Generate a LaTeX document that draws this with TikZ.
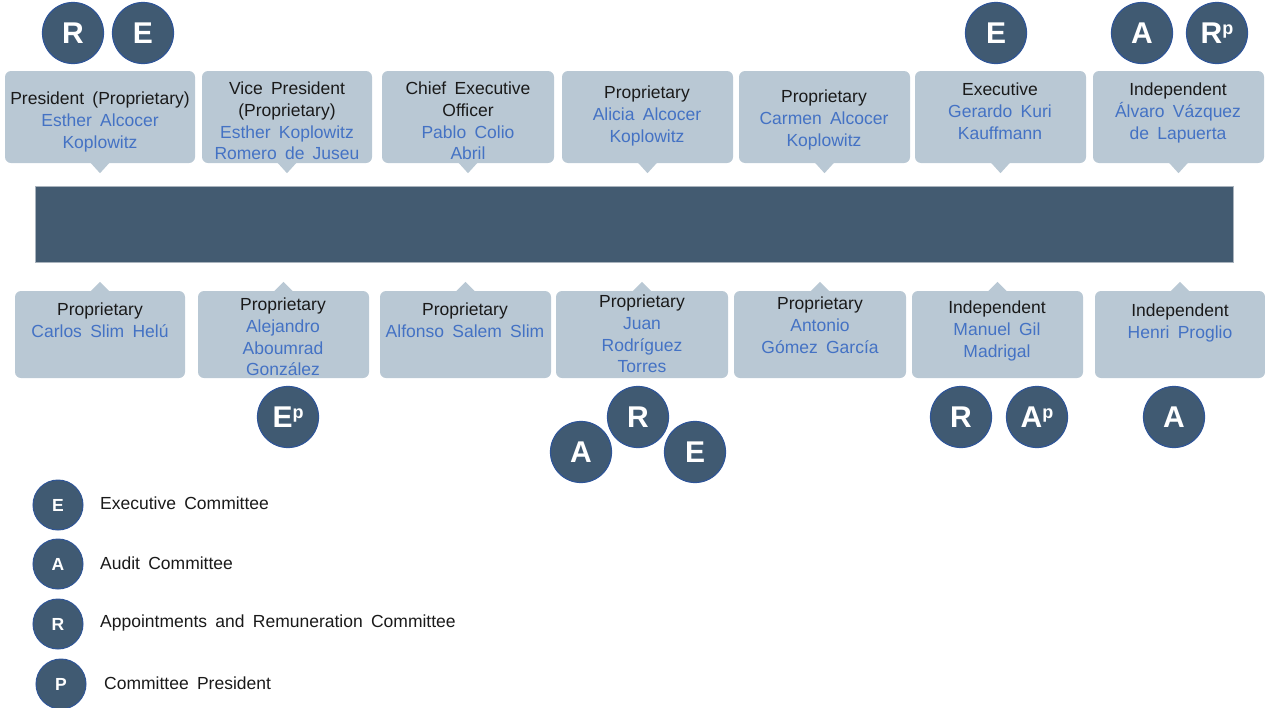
\documentclass[tikz,border=0pt]{standalone}
\usepackage{fontspec}
\setmainfont{Liberation Sans}[WordSpace=1.7]
\definecolor{barcol}{HTML}{435B71}
\definecolor{circ}{HTML}{405A72}
\definecolor{circedge}{HTML}{2F5597}
\definecolor{boxfill}{HTML}{B9C8D4}
\definecolor{namecol}{HTML}{4472C4}
\definecolor{txt}{HTML}{1A1A1A}
\definecolor{baredge}{HTML}{A9B3BD}
\newcommand\nm[1]{\textcolor{namecol}{#1}}
\newcommand\badgesup{\raisebox{9pt}{\fontsize{18}{18}\selectfont p}}
\begin{document}
\begin{tikzpicture}[x=1pt,y=-1pt,
 card/.style={fill=boxfill, rounded corners=6pt, inner sep=0pt},
 lbl/.style={align=center, font=\fontsize{17.5}{21.8}\selectfont, text=txt, inner sep=0pt},
 badge/.style={circle, fill=circ, draw=circedge, line width=1.2pt, minimum size=61pt, inner sep=0pt, text=white, font=\fontsize{30}{30}\selectfont\bfseries},
 legbadge/.style={circle, fill=circ, draw=circedge, line width=1pt, minimum size=50pt, inner sep=0pt, text=white, font=\fontsize{17.5}{17.5}\selectfont\bfseries},
 legtext/.style={anchor=west, font=\fontsize{17.5}{20}\selectfont, text=txt, inner sep=0pt}]
\useasboundingbox (0,0) rectangle (1265,707);

% bar
\node[fill=barcol, draw=baredge, line width=0.7pt, minimum width=1198pt, minimum height=76pt, inner sep=0pt] (bar) at (634,224) {};

% top cards
\foreach \n/\x/\w in {t1/100/190, t2/287/170, t3/468/172, t4/647.5/171, t5/824.5/171, t6/1000.5/171, t7/1178.5/171}{
  \node[card, minimum width=\w pt, minimum height=92pt] (\n) at (\x,117) {};
  \fill[boxfill] ([xshift=-10pt,yshift=1pt]\n.south) -- ([xshift=10pt,yshift=1pt]\n.south) -- ([yshift=-10pt]\n.south) -- cycle;
}
% bottom cards
\foreach \n/\x/\w in {b1/100/170, b2/283.5/171, b3/465.5/171, b4/642/172, b5/820/172, b6/997.5/171, b7/1180/170}{
  \node[card, minimum width=\w pt, minimum height=87pt] (\n) at (\x,334.5) {};
  \fill[boxfill] ([xshift=-10pt,yshift=-1pt]\n.north) -- ([xshift=10pt,yshift=-1pt]\n.north) -- ([yshift=9pt]\n.north) -- cycle;
}

% top texts
\node[lbl] (tt1) at (100,122) {President (Proprietary)\\\nm{Esther Alcocer}\\\nm{Koplowitz}};
\node[lbl] (tt2) at (287,121) {Vice President\\(Proprietary)\\\nm{Esther Koplowitz}\\\nm{Romero de Juseu}};
\node[lbl] (tt3) at (468,121) {Chief Executive\\Officer\\\nm{Pablo Colio}\\\nm{Abril}};
\node[lbl] (tt4) at (647,116) {Proprietary\\\nm{Alicia Alcocer}\\\nm{Koplowitz}};
\node[lbl] (tt5) at (824,120) {Proprietary\\\nm{Carmen Alcocer}\\\nm{Koplowitz}};
\node[lbl] (tt6) at (1000,111) {Executive\\\nm{Gerardo Kuri}\\\nm{Kauffmann}};
\node[lbl] (tt7) at (1178,113) {Independent\\\nm{Álvaro Vázquez}\\\nm{de Lapuerta}};

% bottom texts
\node[lbl] (bt1) at (100,320) {Proprietary\\\nm{Carlos Slim Helú}};
\node[lbl] (bt2) at (283,337) {Proprietary\\\nm{Alejandro}\\\nm{Aboumrad}\\\nm{González}};
\node[lbl] (bt3) at (465,320) {Proprietary\\\nm{Alfonso Salem Slim}};
\node[lbl] (bt4) at (642,334) {Proprietary\\\nm{Juan}\\\nm{Rodríguez}\\\nm{Torres}};
\node[lbl] (bt5) at (820,325) {Proprietary\\\nm{Antonio}\\\nm{Gómez García}};
\node[lbl] (bt6) at (997,331) {Independent\\\nm{Manuel Gil}\\\nm{Madrigal}};
\node[lbl] (bt7) at (1180,323) {Independent\\\nm{Henri Proglio}};

% committee badges top
\node[badge] (c1) at (73,33) {R};
\node[badge] (c2) at (143,33) {E};
\node[badge] (c3) at (996,33) {E};
\node[badge] (c4) at (1142,33) {A};
\node[badge] (c5) at (1217,33) {R\badgesup};
% committee badges bottom
\node[badge] (c6) at (288,417) {E\badgesup};
\node[badge] (c7) at (638,417) {R};
\node[badge] (c8) at (581,452) {A};
\node[badge] (c9) at (695,452) {E};
\node[badge] (c10) at (961,417) {R};
\node[badge] (c11) at (1037,417) {A\badgesup};
\node[badge] (c12) at (1174,417) {A};

% legend
\node[legbadge] (l1) at (58,505) {E};
\node[legbadge] (l2) at (58,564) {A};
\node[legbadge] (l3) at (58,624) {R};
\node[legbadge] (l4) at (61,684) {P};
\node[legtext] (lt1) at (100,503) {Executive Committee};
\node[legtext] (lt2) at (100,563) {Audit Committee};
\node[legtext] (lt3) at (100,623) {Appointments and Remuneration Committee};
\node[legtext] (lt4) at (104,683) {Committee President};
\end{tikzpicture}
\end{document}
